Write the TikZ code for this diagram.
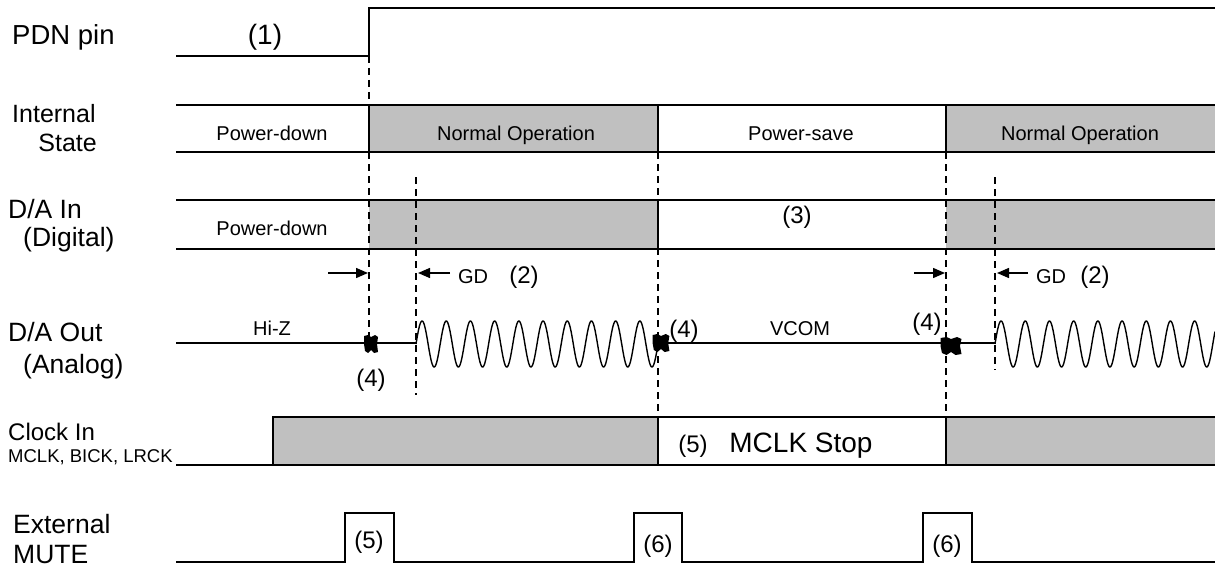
\documentclass[tikz,border=0pt]{standalone}
\usepackage{fontspec}
\setmainfont{Liberation Sans}
\usetikzlibrary{arrows.meta}
\definecolor{grayfill}{HTML}{C0C0C0}
\begin{document}
\begin{tikzpicture}[x=1pt,y=-1pt,
  sig/.style={line width=1.4pt, line join=miter},
  guide/.style={line width=1.2pt, dash pattern=on 7pt off 5pt},
  lbl/.style={font=\fontsize{26.5}{30}\selectfont, inner sep=0pt, anchor=base west},
  sublbl/.style={font=\fontsize{18.5}{22}\selectfont, inner sep=0pt, anchor=base west},
  note/.style={font=\fontsize{24}{28}\selectfont, inner sep=0pt, anchor=base},
  state/.style={font=\fontsize{20}{24}\selectfont, inner sep=0pt, anchor=base},
  bignote/.style={font=\fontsize{28}{32}\selectfont, inner sep=0pt, anchor=base},
  timearrow/.style={line width=1.4pt, -{Triangle[length=12pt,width=10pt]}},
  blob/.pic={\fill[black] (-7,-8) -- (-3,-9) -- (0,-7) -- (4,-9) -- (7,-7) -- (6,0) -- (7,8) -- (3,9) -- (0,6) -- (-3,9) -- (-6,7) -- (-7,0) -- cycle;}
]
\useasboundingbox (0,0) rectangle (1215,567);

% gray regions
\fill[grayfill] (369,105) rectangle (658,152);
\fill[grayfill] (946,105) rectangle (1215,152);
\fill[grayfill] (369,200) rectangle (658,249);
\fill[grayfill] (946,200) rectangle (1215,249);
\fill[grayfill] (273,417) rectangle (658,465);
\fill[grayfill] (946,417) rectangle (1215,465);

% dashed guide lines
\draw[guide] (369,56) -- (369,345);
\draw[guide] (416,177) -- (416,395);
\draw[guide] (658,152) -- (658,416);
\draw[guide] (946,152) -- (946,416);
\draw[guide] (995,177) -- (995,370);

% PDN pin
\draw[sig] (176,56) -- (369,56) -- (369,8) -- (1215,8);

% Internal state
\draw[sig] (176,105) -- (1215,105);
\draw[sig] (176,152) -- (1215,152);
\draw[sig] (369,105) -- (369,152);
\draw[sig] (658,105) -- (658,152);
\draw[sig] (946,105) -- (946,152);

% D/A In
\draw[sig] (176,200) -- (1215,200);
\draw[sig] (176,249) -- (1215,249);
\draw[sig] (658,200) -- (658,249);

% D/A Out
\draw[sig] (176,343) -- (416,343);
\draw[sig] plot[domain=0:242, samples=500] ({416+\x},{344-23*sin(\x*14.876)});
\draw[sig] (658,343) -- (995,343);
\draw[sig] plot[domain=0:220, samples=460] ({995+\x},{344-23*sin(\x*14.876)});
\pic at (371,344) {blob};
\pic[xscale=1.2] at (661,343) {blob};
\pic[xscale=1.5] at (951,346) {blob};

% Clock In
\draw[sig] (176,465) -- (1215,465);
\draw[sig] (273,465) -- (273,417) -- (1215,417);
\draw[sig] (658,417) -- (658,465);
\draw[sig] (946,417) -- (946,465);

% External MUTE
\draw[sig] (176,562) -- (345,562) -- (345,513) -- (394,513) -- (394,562)
  -- (634,562) -- (634,513) -- (682,513) -- (682,562)
  -- (923,562) -- (923,513) -- (972,513) -- (972,562) -- (1215,562);

% timing arrows
\draw[timearrow] (328,273) -- (368,273);
\draw[timearrow] (450,273) -- (418,273);
\draw[timearrow] (914,273) -- (945,273);
\draw[timearrow] (1028,273) -- (997,273);

% left labels
\node[lbl, font=\fontsize{27.5}{31}\selectfont] (pdn) at (12,45) {PDN pin};
\node[lbl, font=\fontsize{25}{29}\selectfont] (int) at (12,123) {Internal};
\node[lbl, font=\fontsize{25}{29}\selectfont, anchor=base east] (st) at (97,152) {State};
\node[lbl] (dain) at (8,218) {D/A In};
\node[lbl] (dig) at (23,246) {(Digital)};
\node[lbl] (daout) at (8,341) {D/A Out};
\node[lbl] (ana) at (23,373) {(Analog)};
\node[lbl, font=\fontsize{24}{28}\selectfont] (clk) at (8,440) {Clock In};
\node[sublbl] (clks) at (8,462) {MCLK, BICK, LRCK};
\node[lbl] (ext) at (13,533) {External};
\node[lbl] (mute) at (13,563) {MUTE};

% in-diagram texts
\node[note, font=\fontsize{28}{32}\selectfont] (n1) at (265,45) {(1)};
\node[state] (s1) at (272,140) {Power-down};
\node[state] (s2) at (516,140) {Normal Operation};
\node[state] (s3) at (801,140) {Power-save};
\node[state] (s4) at (1080,140) {Normal Operation};
\node[state] (d1) at (272,235) {Power-down};
\node[note] (n3) at (797,223) {(3)};
\node[state] (gd1) at (473,283) {GD};
\node[note] (n2a) at (524,283) {(2)};
\node[state] (gd2) at (1051,283) {GD};
\node[note] (n2b) at (1095,283) {(2)};
\node[state] (hiz) at (272,335) {Hi-Z};
\node[state] (vcom) at (800,335) {VCOM};
\node[note] (n4a) at (371,386) {(4)};
\node[note] (n4b) at (684,337) {(4)};
\node[note] (n4c) at (927,330) {(4)};
\node[note] (n5a) at (693,452) {(5)};
\node[bignote] (stop) at (801,452) {MCLK Stop};
\node[note] (n5b) at (369,548) {(5)};
\node[note] (n6a) at (658,552) {(6)};
\node[note] (n6b) at (947,552) {(6)};
\end{tikzpicture}
\end{document}
